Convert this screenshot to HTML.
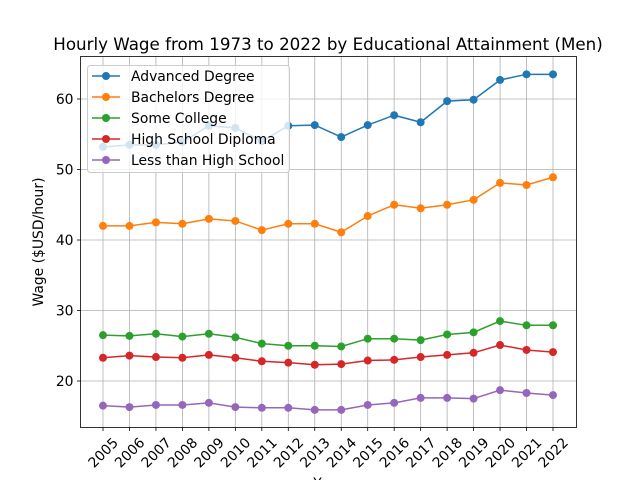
<!DOCTYPE html>
<html><head><meta charset="utf-8"><style>
body{margin:0;background:#fff;}
svg{display:block;font-family:"DejaVu Sans","Liberation Sans",sans-serif;}
</style></head><body>
<svg id="chart" width="640" height="480" xmlns="http://www.w3.org/2000/svg"></svg>
<script>
const years = [2005,2006,2007,2008,2009,2010,2011,2012,2013,2014,2015,2016,2017,2018,2019,2020,2021,2022];
const advanced = [53.2,53.5,53.5,53.9,56.2,55.9,54.0,56.2,56.3,54.6,56.3,57.7,56.7,59.7,59.9,62.7,63.5,63.5];
const bachelors = [42.0,42.0,42.5,42.3,43.0,42.7,41.4,42.3,42.3,41.1,43.4,45.0,44.5,45.0,45.7,48.1,47.8,48.9];
const someCollege = [26.5,26.4,26.7,26.3,26.7,26.2,25.3,25.0,25.0,24.9,26.0,26.0,25.8,26.6,26.9,28.5,27.9,27.9];
const highSchool = [23.3,23.6,23.4,23.3,23.7,23.3,22.8,22.6,22.3,22.4,22.9,23.0,23.4,23.7,24.0,25.1,24.4,24.1];
const lessHS = [16.5,16.3,16.6,16.6,16.9,16.3,16.2,16.2,15.9,15.9,16.6,16.9,17.6,17.6,17.5,18.7,18.3,18.0];
const yTicks = [20,30,40,50,60];
const seriesNames = ["Advanced Degree","Bachelors Degree","Some College","High School Diploma","Less than High School"];
const seriesData = [advanced,bachelors,someCollege,highSchool,lessHS];
const colors = ["#1f77b4","#ff7f0e","#2ca02c","#d62728","#9467bd"];

const svg = document.getElementById('chart');
const NS = "http://www.w3.org/2000/svg";
const L=80.5,R=576.5,T=56.5,B=427.5;
const x0=103, xStep=(553-103)/17;
const xs = i => x0 + i*xStep;
const ys = v => 381 - (v-20)*7.05;
function mk(tag, attrs, parent){const e=document.createElementNS(NS,tag);for(const k in attrs)e.setAttribute(k,attrs[k]);(parent||svg).appendChild(e);return e;}

const grid = mk('g',{});


years.forEach((y,i)=>{mk('line',{x1:xs(i),x2:xs(i),y1:T,y2:B,stroke:'#b0b0b0','stroke-width':0.8},grid);});
yTicks.forEach(v=>{mk('line',{x1:L,x2:R,y1:ys(v),y2:ys(v),stroke:'#b0b0b0','stroke-width':0.8},grid);});

seriesData.forEach((d,s)=>{
  const g = mk('g',{});
  
  
  mk('polyline',{points:d.map((v,i)=>xs(i)+','+ys(v)).join(' '),fill:'none',stroke:colors[s],'stroke-width':1.5},g);
  d.forEach((v,i)=>{const c=mk('circle',{cx:xs(i),cy:ys(v),r:4,fill:colors[s]},g);
    
    });
});

mk('rect',{x:L,y:T,width:R-L,height:B-T,fill:'none',stroke:'#000','stroke-width':0.8});

yTicks.forEach(v=>{
  mk('line',{x1:L-3.5,x2:L,y1:ys(v),y2:ys(v),stroke:'#000','stroke-width':0.8});
  const t=mk('text',{x:L-7,y:ys(v)+5,'text-anchor':'end','font-size':13.9});
  t.textContent=v;
  
  
});
years.forEach((y,i)=>{
  mk('line',{x1:xs(i),x2:xs(i),y1:B,y2:B+3.5,stroke:'#000','stroke-width':0.8});
  const cx=xs(i), cy=B+25;
  const t=mk('text',{x:cx,y:cy+5,'text-anchor':'middle','font-size':13.9,transform:`rotate(-45 ${cx} ${cy})`});
  t.textContent=y;
  
  
});

const title=mk('text',{x:328,y:50,'text-anchor':'middle','font-size':16.7});
title.textContent='Hourly Wage from 1973 to 2022 by Educational Attainment (Men)';


const yl=mk('text',{x:43,y:242,'text-anchor':'middle','font-size':13.9,transform:'rotate(-90 43 242)'});
yl.textContent='Wage ($USD/hour)';


const xl=mk('text',{x:328,y:488,'text-anchor':'middle','font-size':13.9});
xl.textContent='Year';



const lg=mk('g',{});


mk('rect',{x:87.5,y:65.5,width:202,height:107,rx:3,fill:'#fff','fill-opacity':0.8,stroke:'#cccccc'},lg);
seriesNames.forEach((n,s)=>{
  const yy=76+s*21;
  const e=mk('g',{},lg);
  
  
  mk('line',{x1:92,x2:120,y1:yy,y2:yy,stroke:colors[s],'stroke-width':1.5},e);
  mk('circle',{cx:106,cy:yy,r:4,fill:colors[s]},e);
  const t=mk('text',{x:131,y:yy+5,'font-size':13.9},e);
  t.textContent=n;
});
</script>
</body></html>
